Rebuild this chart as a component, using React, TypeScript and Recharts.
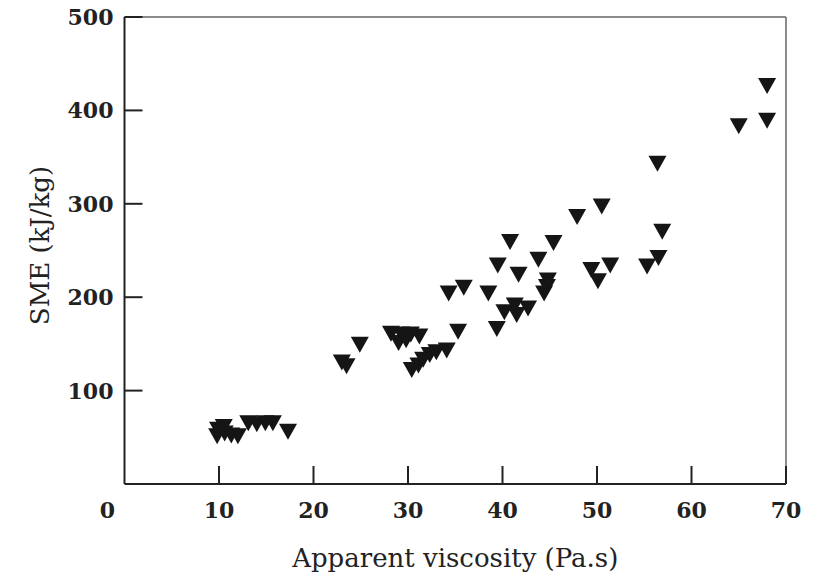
import { ScatterChart, Scatter, XAxis, YAxis, ReferenceLine } from 'recharts'

// apparent viscosity (Pa.s)
const viscosity = [
  9.8, 9.9, 10.5, 10.6, 11.3, 12.0, 13.1, 14.0, 14.9, 15.7, 17.3,
  23.0, 23.5, 24.9,
  28.2, 29.3, 30.3, 31.2, 29.0, 29.8, 30.4, 31.1, 31.6, 32.3, 33.0, 34.1, 35.3,
  34.3, 35.9, 38.5, 39.4, 39.5, 40.8, 41.7, 40.2, 41.3, 41.5, 42.7, 43.8, 44.4, 44.7, 44.8, 45.4,
  47.9, 50.5, 49.4, 50.1, 51.4, 55.3, 56.5, 56.9, 56.4,
  65.0, 68.0, 68.0,
]

// specific mechanical energy (kJ/kg)
const sme = [
  51, 58, 61, 54, 52, 51, 65, 64, 65, 65, 56,
  130, 126, 149,
  161, 160, 160, 158, 151, 154, 122, 127, 133, 138, 141, 143, 163,
  204, 210, 204, 166, 234, 259, 224, 184, 191, 181, 188, 240, 204, 211, 218, 258,
  286, 297, 229, 217, 234, 233, 242, 270, 343,
  383, 389, 426,
]

const xTicks = [0, 10, 20, 30, 40, 50, 60, 70]
const yTicks = [100, 200, 300, 400, 500]

const points = viscosity.map((v, i) => ({ x: v, y: sme[i] }))

const FONT = '"DejaVu Serif", "Liberation Serif", serif'
const INK = '#222'

function DownTriangle(props: any) {
  const { cx, cy } = props
  const w = 9
  const h = 8
  return (
    <polygon
      points={`${cx - w},${cy - h} ${cx + w},${cy - h} ${cx},${cy + h}`}
      fill="#151515"
    />
  )
}

// bottom axis: tick marks point up into the plot, labels sit below
function XTick(props: any) {
  const { x, y, payload } = props
  const v = payload.value
  return (
    <g>
      {v !== 0 && <line x1={x} y1={y} x2={x} y2={y - 18} stroke={INK} strokeWidth={2} />}
      <text
        x={v === 0 ? x - 17 : x}
        y={y + 34}
        textAnchor="middle"
        fontFamily={FONT}
        fontWeight="bold"
        fontSize={22}
        fill={INK}
      >
        {v}
      </text>
    </g>
  )
}

// left axis: tick marks point right into the plot
function YTick(props: any) {
  const { x, y, payload } = props
  return (
    <g>
      <line x1={x} y1={y} x2={x + 18} y2={y} stroke={INK} strokeWidth={2} />
      <text
        x={x - 11}
        y={y + 8}
        textAnchor="end"
        fontFamily={FONT}
        fontWeight="bold"
        fontSize={22}
        fill={INK}
      >
        {payload.value}
      </text>
    </g>
  )
}

export default function App() {
  return (
    <div style={{ position: 'absolute', left: 0, top: 0, background: '#fff' }}>
      <ScatterChart width={820} height={576} margin={{ top: 17, right: 34, bottom: 0, left: 0 }}>
        <XAxis
          type="number"
          dataKey="x"
          domain={[0, 70]}
          ticks={xTicks}
          height={92}
          tickSize={0}
          tickMargin={0}
          tickLine={false}
          tick={<XTick />}
          axisLine={{ stroke: INK, strokeWidth: 2 }}
          label={{
            value: 'Apparent viscosity (Pa.s)',
            position: 'insideBottom',
            offset: 9,
            style: { fontFamily: FONT, fontSize: 26, fill: INK },
          }}
        />
        <YAxis
          type="number"
          dataKey="y"
          domain={[0, 500]}
          ticks={yTicks}
          width={124.5}
          tickSize={0}
          tickMargin={0}
          tickLine={false}
          tick={<YTick />}
          axisLine={{ stroke: INK, strokeWidth: 2 }}
          label={{
            value: 'SME (kJ/kg)',
            angle: -90,
            position: 'insideLeft',
            offset: 40,
            dy: -5,
            style: { fontFamily: FONT, fontSize: 26, fill: INK, textAnchor: 'middle' },
          }}
        />
        <ReferenceLine y={500} stroke="#666" strokeWidth={1.5} />
        <ReferenceLine x={70} stroke="#666" strokeWidth={1.5} />
        <Scatter data={points} shape={<DownTriangle />} isAnimationActive={false} />
      </ScatterChart>
    </div>
  )
}
